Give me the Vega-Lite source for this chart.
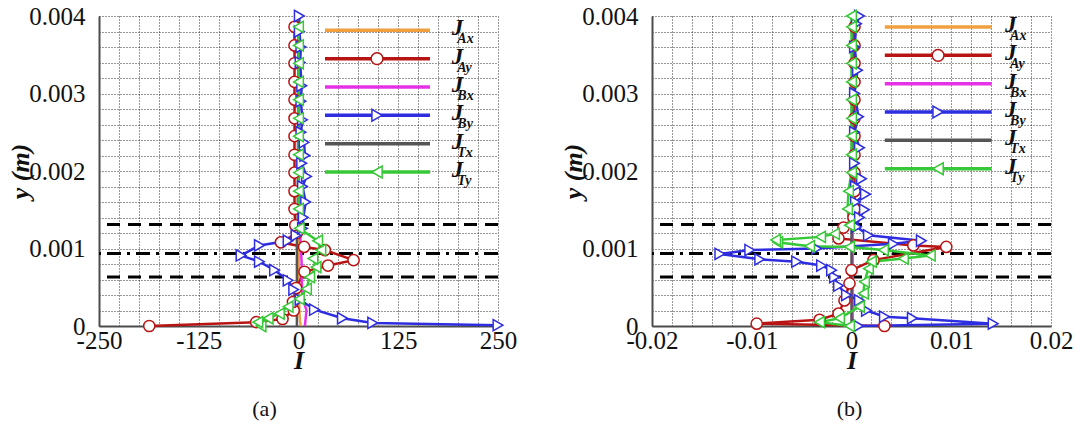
{
  "$schema": "https://vega.github.io/schema/vega-lite/v6.json",
  "background": "white",
  "padding": {"left": 7, "top": 4, "right": 3, "bottom": 5},
  "bounds": "flush",
  "spacing": 154,
  "config": {
    "view": {"stroke": null},
    "font": "Liberation Serif",
    "axis": {
      "grid": true,
      "gridColor": "#1a1a1a",
      "gridDash": [1, 2],
      "gridWidth": 1,
      "gridOpacity": 0.9,
      "ticks": false,
      "tickCount": 30,
      "domainColor": "#4d4d4d",
      "domainWidth": 2,
      "labelFont": "Liberation Serif",
      "labelFontSize": 25,
      "labelColor": "#111111",
      "labelFlush": false,
      "labelOverlap": false,
      "titleFont": "Liberation Serif",
      "titleFontSize": 26,
      "titleFontWeight": "bold",
      "titleFontStyle": "italic",
      "titleColor": "#111111"
    }
  },
  "datasets": {
    "a": [
      {"series": "J_Ax", "y": 0, "I": 3}, {"series": "J_Ax", "y": 0.00005, "I": 2}, {"series": "J_Ax", "y": 0.0002, "I": 1}, {"series": "J_Ax", "y": 0.0006, "I": 0.5}, {"series": "J_Ax", "y": 0.0012, "I": 0}, {"series": "J_Ax", "y": 0.004, "I": 0},

      {"series": "J_Ay", "y": 0, "I": -187}, {"series": "J_Ay", "y": 0.00005, "I": -53}, {"series": "J_Ay", "y": 0.00009, "I": -20}, {"series": "J_Ay", "y": 0.0002, "I": -6}, {"series": "J_Ay", "y": 0.00031, "I": -7}, {"series": "J_Ay", "y": 0.00049, "I": -3}, {"series": "J_Ay", "y": 0.0007, "I": 7.5}, {"series": "J_Ay", "y": 0.00078, "I": 37}, {"series": "J_Ay", "y": 0.00085, "I": 69}, {"series": "J_Ay", "y": 0.00098, "I": 33}, {"series": "J_Ay", "y": 0.00102, "I": 7}, {"series": "J_Ay", "y": 0.00108, "I": -22}, {"series": "J_Ay", "y": 0.0012, "I": -2}, {"series": "J_Ay", "y": 0.0013, "I": -4}, {"series": "J_Ay", "y": 0.00151, "I": -5}, {"series": "J_Ay", "y": 0.00174, "I": -5}, {"series": "J_Ay", "y": 0.00198, "I": -5}, {"series": "J_Ay", "y": 0.00221, "I": -5}, {"series": "J_Ay", "y": 0.00245, "I": -5}, {"series": "J_Ay", "y": 0.00268, "I": -5}, {"series": "J_Ay", "y": 0.00292, "I": -5}, {"series": "J_Ay", "y": 0.00315, "I": -5}, {"series": "J_Ay", "y": 0.00339, "I": -5}, {"series": "J_Ay", "y": 0.00362, "I": -5}, {"series": "J_Ay", "y": 0.00386, "I": -5},

      {"series": "J_Bx", "y": 0, "I": 8}, {"series": "J_Bx", "y": 0.0001, "I": 9}, {"series": "J_Bx", "y": 0.0002, "I": 10}, {"series": "J_Bx", "y": 0.0003, "I": 7}, {"series": "J_Bx", "y": 0.0004, "I": 5}, {"series": "J_Bx", "y": 0.0006, "I": 4}, {"series": "J_Bx", "y": 0.0008, "I": 4}, {"series": "J_Bx", "y": 0.001, "I": 3}, {"series": "J_Bx", "y": 0.0012, "I": 2}, {"series": "J_Bx", "y": 0.0014, "I": 0.5}, {"series": "J_Bx", "y": 0.004, "I": 0},

      {"series": "J_By", "y": 0.00001, "I": 250}, {"series": "J_By", "y": 0.00004, "I": 93}, {"series": "J_By", "y": 0.0001, "I": 55}, {"series": "J_By", "y": 0.00021, "I": 20}, {"series": "J_By", "y": 0.00034, "I": 2}, {"series": "J_By", "y": 0.00047, "I": -6}, {"series": "J_By", "y": 0.00059, "I": -13}, {"series": "J_By", "y": 0.00072, "I": -30}, {"series": "J_By", "y": 0.00083, "I": -49}, {"series": "J_By", "y": 0.00091, "I": -72}, {"series": "J_By", "y": 0.00104, "I": -49}, {"series": "J_By", "y": 0.0011, "I": -13}, {"series": "J_By", "y": 0.00117, "I": -3}, {"series": "J_By", "y": 0.00126, "I": 5}, {"series": "J_By", "y": 0.0014, "I": 6}, {"series": "J_By", "y": 0.0016, "I": 9}, {"series": "J_By", "y": 0.0018, "I": 5}, {"series": "J_By", "y": 0.00193, "I": 10}, {"series": "J_By", "y": 0.0021, "I": 4}, {"series": "J_By", "y": 0.0022, "I": 8}, {"series": "J_By", "y": 0.00237, "I": 7}, {"series": "J_By", "y": 0.0025, "I": 3}, {"series": "J_By", "y": 0.00266, "I": 5}, {"series": "J_By", "y": 0.0029, "I": 3}, {"series": "J_By", "y": 0.0031, "I": 4}, {"series": "J_By", "y": 0.0034, "I": 2}, {"series": "J_By", "y": 0.0036, "I": 3}, {"series": "J_By", "y": 0.0038, "I": 1}, {"series": "J_By", "y": 0.004, "I": 1},

      {"series": "J_Tx", "y": 0, "I": -2}, {"series": "J_Tx", "y": 0.0012, "I": -2}, {"series": "J_Tx", "y": 0.0013, "I": -1}, {"series": "J_Tx", "y": 0.004, "I": 0},

      {"series": "J_Ty", "y": 0, "I": -47}, {"series": "J_Ty", "y": 0.00005, "I": -51}, {"series": "J_Ty", "y": 0.0001, "I": -38}, {"series": "J_Ty", "y": 0.00016, "I": -24}, {"series": "J_Ty", "y": 0.00025, "I": -13}, {"series": "J_Ty", "y": 0.00035, "I": 1}, {"series": "J_Ty", "y": 0.00048, "I": 10}, {"series": "J_Ty", "y": 0.00063, "I": 14}, {"series": "J_Ty", "y": 0.00076, "I": 22}, {"series": "J_Ty", "y": 0.00087, "I": 18}, {"series": "J_Ty", "y": 0.00098, "I": 28}, {"series": "J_Ty", "y": 0.0011, "I": 24}, {"series": "J_Ty", "y": 0.00126, "I": 1}, {"series": "J_Ty", "y": 0.00151, "I": 0}, {"series": "J_Ty", "y": 0.00174, "I": 0}, {"series": "J_Ty", "y": 0.00198, "I": 0}, {"series": "J_Ty", "y": 0.00221, "I": 0}, {"series": "J_Ty", "y": 0.00245, "I": 0}, {"series": "J_Ty", "y": 0.00268, "I": 0}, {"series": "J_Ty", "y": 0.00292, "I": 0}, {"series": "J_Ty", "y": 0.00315, "I": 0}, {"series": "J_Ty", "y": 0.00339, "I": 0}, {"series": "J_Ty", "y": 0.00362, "I": 0}, {"series": "J_Ty", "y": 0.00386, "I": 0}
    ],
    "b": [
      {"series": "J_Ax", "y": 0, "I": 0.0001}, {"series": "J_Ax", "y": 0.004, "I": 0.0001},

      {"series": "J_Ay", "y": 0, "I": 0.0033}, {"series": "J_Ay", "y": 0.00003, "I": -0.0095}, {"series": "J_Ay", "y": 0.00008, "I": -0.0032}, {"series": "J_Ay", "y": 0.00016, "I": -0.0013}, {"series": "J_Ay", "y": 0.00033, "I": -0.0007}, {"series": "J_Ay", "y": 0.00055, "I": -0.0002}, {"series": "J_Ay", "y": 0.00072, "I": 0}, {"series": "J_Ay", "y": 0.00085, "I": 0.0022}, {"series": "J_Ay", "y": 0.00102, "I": 0.0095}, {"series": "J_Ay", "y": 0.00104, "I": 0.0062}, {"series": "J_Ay", "y": 0.00113, "I": -0.0013}, {"series": "J_Ay", "y": 0.00127, "I": -0.0008}, {"series": "J_Ay", "y": 0.0014, "I": 0.0002}, {"series": "J_Ay", "y": 0.00151, "I": 0.0003}, {"series": "J_Ay", "y": 0.00174, "I": 0.0003}, {"series": "J_Ay", "y": 0.00198, "I": 0.0003}, {"series": "J_Ay", "y": 0.00221, "I": 0.0003}, {"series": "J_Ay", "y": 0.00245, "I": 0.0003}, {"series": "J_Ay", "y": 0.00268, "I": 0.0003}, {"series": "J_Ay", "y": 0.00292, "I": 0.0003}, {"series": "J_Ay", "y": 0.00315, "I": 0.0003}, {"series": "J_Ay", "y": 0.00339, "I": 0.0003}, {"series": "J_Ay", "y": 0.00362, "I": 0.0003}, {"series": "J_Ay", "y": 0.00386, "I": 0.0003},

      {"series": "J_Bx", "y": 0, "I": 0.0001}, {"series": "J_Bx", "y": 0.004, "I": 0.0001},

      {"series": "J_By", "y": 0, "I": 0.0007}, {"series": "J_By", "y": 0.00003, "I": 0.0142}, {"series": "J_By", "y": 0.0001, "I": 0.0061}, {"series": "J_By", "y": 0.00012, "I": 0.0033}, {"series": "J_By", "y": 0.0002, "I": 0.0015}, {"series": "J_By", "y": 0.00033, "I": 0.0008}, {"series": "J_By", "y": 0.0004, "I": -0.0005}, {"series": "J_By", "y": 0.00052, "I": -0.0013}, {"series": "J_By", "y": 0.00063, "I": -0.0017}, {"series": "J_By", "y": 0.00072, "I": -0.002}, {"series": "J_By", "y": 0.00078, "I": -0.003}, {"series": "J_By", "y": 0.00083, "I": -0.0055}, {"series": "J_By", "y": 0.00086, "I": -0.0092}, {"series": "J_By", "y": 0.00093, "I": -0.0132}, {"series": "J_By", "y": 0.00098, "I": -0.0102}, {"series": "J_By", "y": 0.001, "I": -0.0035}, {"series": "J_By", "y": 0.00106, "I": 0.0042}, {"series": "J_By", "y": 0.0011, "I": 0.007}, {"series": "J_By", "y": 0.00117, "I": 0.0017}, {"series": "J_By", "y": 0.00128, "I": 0.0005}, {"series": "J_By", "y": 0.0014, "I": 0.0008}, {"series": "J_By", "y": 0.0015, "I": 0.0013}, {"series": "J_By", "y": 0.0016, "I": 0.0004}, {"series": "J_By", "y": 0.0017, "I": 0.0014}, {"series": "J_By", "y": 0.0018, "I": 0.0004}, {"series": "J_By", "y": 0.0019, "I": 0.001}, {"series": "J_By", "y": 0.0021, "I": 0.0003}, {"series": "J_By", "y": 0.0023, "I": 0.0008}, {"series": "J_By", "y": 0.0025, "I": 0.0003}, {"series": "J_By", "y": 0.0027, "I": 0.0007}, {"series": "J_By", "y": 0.003, "I": 0.0003}, {"series": "J_By", "y": 0.0033, "I": 0.0006}, {"series": "J_By", "y": 0.0036, "I": 0.0003}, {"series": "J_By", "y": 0.0039, "I": 0.0005}, {"series": "J_By", "y": 0.004, "I": 0.0008},

      {"series": "J_Tx", "y": 0, "I": 0}, {"series": "J_Tx", "y": 0.0013, "I": 0}, {"series": "J_Tx", "y": 0.004, "I": 0.0001},

      {"series": "J_Ty", "y": 0, "I": -0.0002}, {"series": "J_Ty", "y": 0.00005, "I": -0.0032}, {"series": "J_Ty", "y": 0.0001, "I": -0.0012}, {"series": "J_Ty", "y": 0.00025, "I": 0.0008}, {"series": "J_Ty", "y": 0.00042, "I": 0.0012}, {"series": "J_Ty", "y": 0.00057, "I": 0.0013}, {"series": "J_Ty", "y": 0.00074, "I": 0.0017}, {"series": "J_Ty", "y": 0.00083, "I": 0.002}, {"series": "J_Ty", "y": 0.00087, "I": 0.0052}, {"series": "J_Ty", "y": 0.00091, "I": 0.0079}, {"series": "J_Ty", "y": 0.00098, "I": 0.0032}, {"series": "J_Ty", "y": 0.00102, "I": -0.0002}, {"series": "J_Ty", "y": 0.00103, "I": -0.0042}, {"series": "J_Ty", "y": 0.00108, "I": -0.0074}, {"series": "J_Ty", "y": 0.00111, "I": -0.0076}, {"series": "J_Ty", "y": 0.00115, "I": -0.0031}, {"series": "J_Ty", "y": 0.00119, "I": -0.0017}, {"series": "J_Ty", "y": 0.0013, "I": -0.0002}, {"series": "J_Ty", "y": 0.00151, "I": -0.0004}, {"series": "J_Ty", "y": 0.00174, "I": -0.0003}, {"series": "J_Ty", "y": 0.00198, "I": 0}, {"series": "J_Ty", "y": 0.00221, "I": 0}, {"series": "J_Ty", "y": 0.00245, "I": 0}, {"series": "J_Ty", "y": 0.00268, "I": 0}, {"series": "J_Ty", "y": 0.00292, "I": 0}, {"series": "J_Ty", "y": 0.00315, "I": 0}, {"series": "J_Ty", "y": 0.00339, "I": 0}, {"series": "J_Ty", "y": 0.00362, "I": 0}, {"series": "J_Ty", "y": 0.00386, "I": 0}, {"series": "J_Ty", "y": 0.004, "I": 0}
    ],
    "key": [
      {"series": "J_Ax", "sub": "Ax"},
      {"series": "J_Ay", "sub": "Ay"},
      {"series": "J_Bx", "sub": "Bx"},
      {"series": "J_By", "sub": "By"},
      {"series": "J_Tx", "sub": "Tx"},
      {"series": "J_Ty", "sub": "Ty"}
    ],
    "one": [{}]
  },
  "hconcat": [
    {
      "width": 399,
      "height": 310,
      "title": {"text": "(a)", "orient": "bottom", "anchor": "middle", "dx": -34, "offset": 26, "font": "Liberation Serif", "fontSize": 22, "fontWeight": "normal", "color": "#111111"},
      "resolve": {"scale": {"y": "independent"}},
      "layer": [
        {
          "layer": [
            {
              "data": {"name": "one"},
              "mark": {"type": "rule", "color": "black", "strokeWidth": 3, "strokeDash": [13, 8]},
              "encoding": {"y": {"datum": 0.00131, "type": "quantitative"}}
            },
            {
              "data": {"name": "one"},
              "mark": {"type": "rule", "color": "black", "strokeWidth": 3, "strokeDash": [13, 8]},
              "encoding": {"y": {"datum": 0.000632, "type": "quantitative"}}
            },
            {
              "data": {"name": "one"},
              "mark": {"type": "rule", "color": "black", "strokeWidth": 3, "strokeDash": [14, 6, 3, 6]},
              "encoding": {"y": {"datum": 0.000934, "type": "quantitative"}}
            },
            {
              "data": {"name": "a"},
              "mark": {"type": "line", "strokeWidth": 2.5},
              "encoding": {
                "x": {"field": "I", "type": "quantitative",
                  "scale": {"domain": [-250, 250], "nice": false, "zero": false},
                  "axis": {"title": "I", "tickCount": 30, "values": [-250, -225, -200, -175, -150, -125, -100, -75, -50, -25, 0, 25, 50, 75, 100, 125, 150, 175, 200, 225, 250],
                    "labelExpr": "datum.value % 125 === 0 ? (datum.value < 0 ? '-' : '') + format(abs(datum.value), 'd') : ''",
                    "labelFont": "Liberation Serif", "titleFont": "Liberation Serif",
                    "labelOverlap": false, "labelFlush": false, "labelPadding": 2, "titlePadding": -6}},
                "y": {"field": "y", "type": "quantitative",
                  "scale": {"domain": [0, 0.004], "nice": false},
                  "axis": {"title": "y (m)", "tickCount": 30, "values": [0, 0.0002, 0.0004, 0.0006, 0.0008, 0.001, 0.0012, 0.0014, 0.0016, 0.0018, 0.002, 0.0022, 0.0024, 0.0026, 0.0028, 0.003, 0.0032, 0.0034, 0.0036, 0.0038, 0.004],
                    "labelExpr": "abs(datum.value * 1000 - round(datum.value * 1000)) < 1e-6 ? format(datum.value, '~g') : ''",
                    "labelFont": "Liberation Serif", "titleFont": "Liberation Serif",
                    "labelOverlap": false, "labelPadding": 14, "titlePadding": -5}},
                "color": {"field": "series", "type": "nominal", "legend": null,
                  "scale": {"domain": ["J_Ax", "J_Ay", "J_Bx", "J_By", "J_Tx", "J_Ty"], "range": ["#f0a040", "#b81414", "#e632e6", "#2e2ee0", "#555555", "#36c836"]}},
                "order": {"field": "y", "type": "quantitative"}
              }
            },
            {
              "data": {"name": "a"},
              "transform": [{"filter": {"field": "series", "oneOf": ["J_Ay", "J_By", "J_Ty"]}}],
              "mark": {"type": "point", "filled": false, "fill": "white", "fillOpacity": 1, "strokeWidth": 1.5, "size": 125, "opacity": 1},
              "encoding": {
                "x": {"field": "I", "type": "quantitative"},
                "y": {"field": "y", "type": "quantitative"},
                "color": {"field": "series", "type": "nominal", "legend": null},
                "shape": {"field": "series", "type": "nominal", "legend": null,
                  "scale": {"domain": ["J_Ay", "J_By", "J_Ty"], "range": ["circle", "triangle-right", "triangle-left"]}}
              }
            }
          ]
        },
        {
          "data": {"name": "key"},
          "encoding": {
            "y": {"field": "series", "type": "nominal", "axis": null,
              "scale": {"type": "point", "domain": ["J_Ax", "J_Ay", "J_Bx", "J_By", "J_Tx", "J_Ty"], "range": [14.3, 156], "padding": 0, "round": false}}
          },
          "layer": [
            {
              "mark": {"type": "rule", "strokeWidth": 3.5},
              "encoding": {
                "x": {"datum": 33.2, "type": "quantitative"},
                "x2": {"datum": 164.8},
                "color": {"field": "series", "type": "nominal", "legend": null}
              }
            },
            {
              "transform": [{"filter": {"field": "series", "oneOf": ["J_Ay", "J_By", "J_Ty"]}}],
              "mark": {"type": "point", "filled": false, "fill": "white", "fillOpacity": 1, "strokeWidth": 1.5, "size": 140, "opacity": 1},
              "encoding": {
                "x": {"datum": 98.4, "type": "quantitative"},
                "color": {"field": "series", "type": "nominal", "legend": null},
                "shape": {"field": "series", "type": "nominal", "legend": null}
              }
            },
            {
              "mark": {"type": "text", "text": "J", "font": "Liberation Serif", "fontSize": 23, "fontWeight": "bold", "fontStyle": "italic", "align": "left", "baseline": "middle", "color": "#111111", "dy": -2},
              "encoding": {"x": {"datum": 192, "type": "quantitative"}}
            },
            {
              "mark": {"type": "text", "font": "Liberation Serif", "fontSize": 14, "fontWeight": "bold", "fontStyle": "italic", "align": "left", "baseline": "middle", "color": "#111111", "dy": 9},
              "encoding": {"x": {"datum": 199, "type": "quantitative"}, "text": {"field": "sub"}}
            }
          ]
        }
      ]
    },
    {
      "width": 399,
      "height": 310,
      "title": {"text": "(b)", "orient": "bottom", "anchor": "middle", "dx": -2, "offset": 26, "font": "Liberation Serif", "fontSize": 22, "fontWeight": "normal", "color": "#111111"},
      "resolve": {"scale": {"y": "independent"}},
      "layer": [
        {
          "layer": [
            {
              "data": {"name": "one"},
              "mark": {"type": "rule", "color": "black", "strokeWidth": 3, "strokeDash": [13, 8]},
              "encoding": {"y": {"datum": 0.00131, "type": "quantitative"}}
            },
            {
              "data": {"name": "one"},
              "mark": {"type": "rule", "color": "black", "strokeWidth": 3, "strokeDash": [13, 8]},
              "encoding": {"y": {"datum": 0.000632, "type": "quantitative"}}
            },
            {
              "data": {"name": "one"},
              "mark": {"type": "rule", "color": "black", "strokeWidth": 3, "strokeDash": [14, 6, 3, 6]},
              "encoding": {"y": {"datum": 0.000934, "type": "quantitative"}}
            },
            {
              "data": {"name": "b"},
              "mark": {"type": "line", "strokeWidth": 2.5},
              "encoding": {
                "x": {"field": "I", "type": "quantitative",
                  "scale": {"domain": [-0.02, 0.02], "nice": false, "zero": false},
                  "axis": {"title": "I", "tickCount": 30, "values": [-0.02, -0.018, -0.016, -0.014, -0.012, -0.01, -0.008, -0.006, -0.004, -0.002, 0, 0.002, 0.004, 0.006, 0.008, 0.01, 0.012, 0.014, 0.016, 0.018, 0.02],
                    "labelExpr": "abs(datum.value * 100 - round(datum.value * 100)) < 1e-6 ? (datum.value < 0 ? '-' : '') + format(abs(datum.value), '~g') : ''",
                    "labelFont": "Liberation Serif", "titleFont": "Liberation Serif",
                    "labelOverlap": false, "labelFlush": false, "labelPadding": 2, "titlePadding": -6}},
                "y": {"field": "y", "type": "quantitative",
                  "scale": {"domain": [0, 0.004], "nice": false},
                  "axis": {"title": "y (m)", "tickCount": 30, "values": [0, 0.0002, 0.0004, 0.0006, 0.0008, 0.001, 0.0012, 0.0014, 0.0016, 0.0018, 0.002, 0.0022, 0.0024, 0.0026, 0.0028, 0.003, 0.0032, 0.0034, 0.0036, 0.0038, 0.004],
                    "labelExpr": "abs(datum.value * 1000 - round(datum.value * 1000)) < 1e-6 ? format(datum.value, '~g') : ''",
                    "labelFont": "Liberation Serif", "titleFont": "Liberation Serif",
                    "labelOverlap": false, "labelPadding": 14, "titlePadding": -5}},
                "color": {"field": "series", "type": "nominal", "legend": null,
                  "scale": {"domain": ["J_Ax", "J_Ay", "J_Bx", "J_By", "J_Tx", "J_Ty"], "range": ["#f0a040", "#b81414", "#e632e6", "#2e2ee0", "#555555", "#36c836"]}},
                "order": {"field": "y", "type": "quantitative"}
              }
            },
            {
              "data": {"name": "b"},
              "transform": [{"filter": {"field": "series", "oneOf": ["J_Ay", "J_By", "J_Ty"]}}],
              "mark": {"type": "point", "filled": false, "fill": "white", "fillOpacity": 1, "strokeWidth": 1.5, "size": 125, "opacity": 1},
              "encoding": {
                "x": {"field": "I", "type": "quantitative"},
                "y": {"field": "y", "type": "quantitative"},
                "color": {"field": "series", "type": "nominal", "legend": null},
                "shape": {"field": "series", "type": "nominal", "legend": null,
                  "scale": {"domain": ["J_Ay", "J_By", "J_Ty"], "range": ["circle", "triangle-right", "triangle-left"]}}
              }
            }
          ]
        },
        {
          "data": {"name": "key"},
          "encoding": {
            "y": {"field": "series", "type": "nominal", "axis": null,
              "scale": {"type": "point", "domain": ["J_Ax", "J_Ay", "J_Bx", "J_By", "J_Tx", "J_Ty"], "range": [11, 152.7], "padding": 0, "round": false}}
          },
          "layer": [
            {
              "mark": {"type": "rule", "strokeWidth": 3.5},
              "encoding": {
                "x": {"datum": 0.00334, "type": "quantitative"},
                "x2": {"datum": 0.01404},
                "color": {"field": "series", "type": "nominal", "legend": null}
              }
            },
            {
              "transform": [{"filter": {"field": "series", "oneOf": ["J_Ay", "J_By", "J_Ty"]}}],
              "mark": {"type": "point", "filled": false, "fill": "white", "fillOpacity": 1, "strokeWidth": 1.5, "size": 140, "opacity": 1},
              "encoding": {
                "x": {"datum": 0.00868, "type": "quantitative"},
                "color": {"field": "series", "type": "nominal", "legend": null},
                "shape": {"field": "series", "type": "nominal", "legend": null}
              }
            },
            {
              "mark": {"type": "text", "text": "J", "font": "Liberation Serif", "fontSize": 23, "fontWeight": "bold", "fontStyle": "italic", "align": "left", "baseline": "middle", "color": "#111111", "dy": -2},
              "encoding": {"x": {"datum": 0.0154, "type": "quantitative"}}
            },
            {
              "mark": {"type": "text", "font": "Liberation Serif", "fontSize": 14, "fontWeight": "bold", "fontStyle": "italic", "align": "left", "baseline": "middle", "color": "#111111", "dy": 9},
              "encoding": {"x": {"datum": 0.0159, "type": "quantitative"}, "text": {"field": "sub"}}
            }
          ]
        }
      ]
    }
  ]
}
